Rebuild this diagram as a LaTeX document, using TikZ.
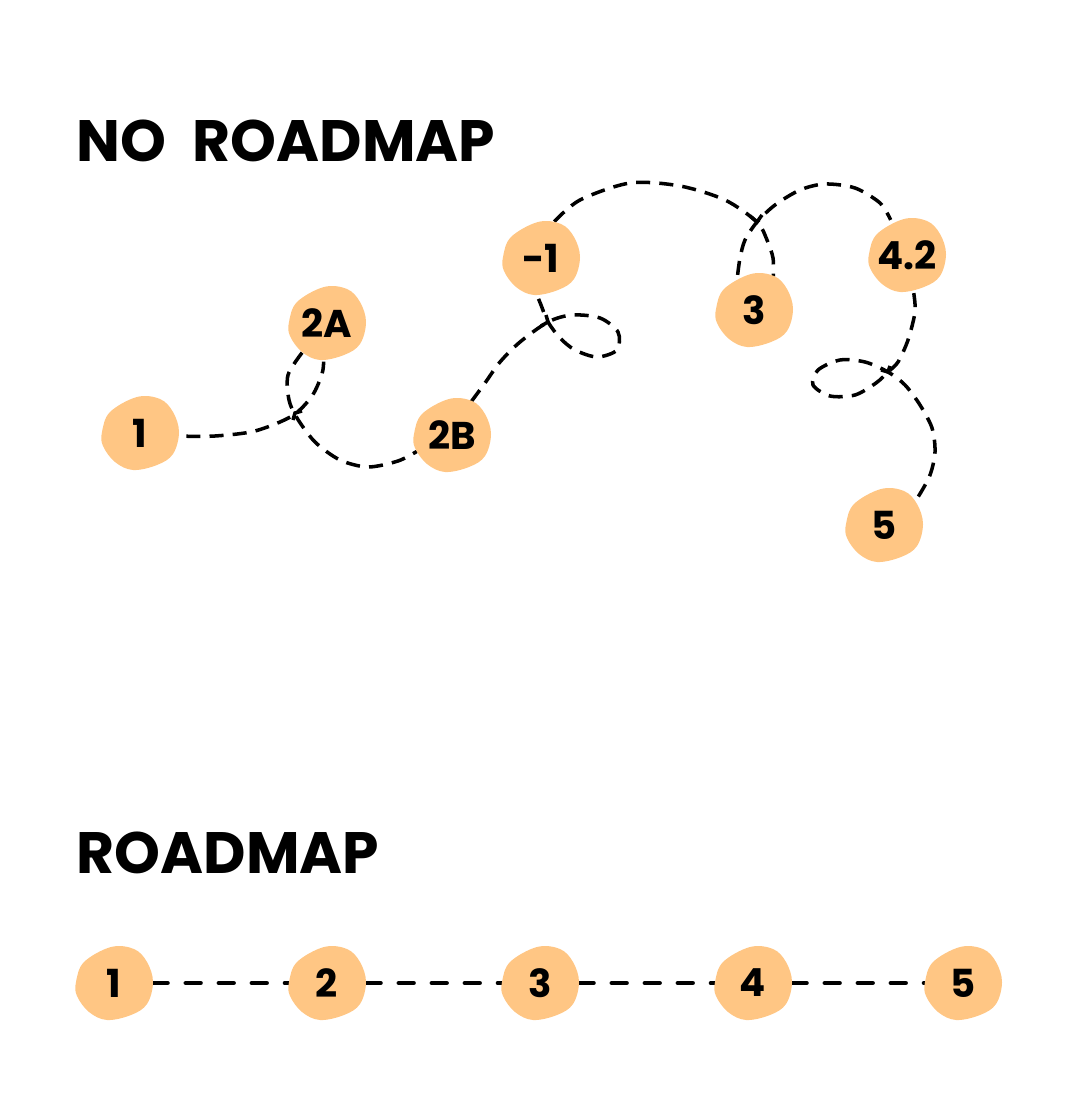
\documentclass[tikz,border=0pt]{standalone}
\usepackage{fontspec}
\setmainfont{Poppins}
\usepackage{xcolor}
\definecolor{blobfill}{HTML}{FFC684}
\pgfdeclarelayer{bg}
\pgfsetlayers{bg,main}
\tikzset{
    stone/.style={circle, minimum size=0.76cm, inner sep=0pt, font=\fontsize{11}{13}\selectfont\bfseries},
    titletext/.style={anchor=base west, inner sep=0pt, font=\fontsize{16.6}{20}\selectfont\bfseries},
    wander/.style={line width=1pt, dash pattern=on 4pt off 2.6pt},
    straight/.style={line width=1.3pt, line cap=round, dash pattern=on 4.2pt off 5.2pt},
}
\begin{document}
\begin{tikzpicture}[x=0.01cm, y=-0.01cm]
    \useasboundingbox (0,0) rectangle (1080,1116);
    %% 定义blob命令: x, y, 名字, 标签
    \newcommand{\blob}[4]{
        \fill[blobfill, shift={(#1,#2)}] plot[smooth cycle, tension=0.6] coordinates
            {(-38,-1) (-30,-21) (-3,-36) (20,-34) (33,-21) (39,-1) (33,21) (17,32) (-7,37) (-25,29) (-37,13)};
        \node[stone] (#3) at (#1,#2) {#4};
    }
    %% 标题
    \node[titletext] (top) at (76,162) {NO\hspace{4pt} ROADMAP};
    \node[titletext] (bottom) at (76,873) {ROADMAP};

    %% 没有路线图的节点
    \blob{140}{433}{a1}{1};
    \blob{327}{323}{a2a}{2A};
    \blob{452}{435}{a2b}{2B};
    \blob{541}{258}{am1}{-1};
    \blob{754}{310}{a3}{3};
    \blob{907}{255}{a42}{4.2};
    \blob{884}{525}{a5}{5};

    %% 有路线图的节点
    \foreach \t/\x in {1/114, 2/327, 3/540, 4/753, 5/963}{
        \blob{\x}{983}{r\t}{\t};
    }

    \begin{pgfonlayer}{bg}
        %% 弯弯曲曲的虚线
        \draw[wander] plot[smooth] coordinates {(a1.center) (180,436) (215,436) (255,431) (292,416) (312,396) (322,374) (a2a.-95)};
        \draw[wander] plot[smooth] coordinates {(a2a.-130) (288,375) (289,400) (297,418) (315,442) (340,460) (368,467) (398,461) (a2b.205)};
        \draw[wander] plot[smooth] coordinates {(a2b.60) (485,383) (500,362) (520,342) (548,322) (572,315) (600,318) (618,332) (617,350) (597,357) (575,350) (560,338) (548,322) (541,305) (am1.-95)};
        \draw[wander] plot[smooth] coordinates {(am1.70) (580,200) (630,183) (680,186) (725,200) (757,222) (767,240) (773,258) (a3.60)};
        \draw[wander] plot[smooth] coordinates {(a3.115) (740,258) (745,240) (757,222) (775,205) (800,190) (825,184) (855,188) (880,203) (a42.115)};
        \draw[wander] plot[smooth] coordinates {(a42.-80) (915,312) (908,340) (898,362) (888,372) (876,383) (855,395) (830,396) (813,385) (818,370) (840,360) (865,362) (888,372) (905,385) (920,405) (932,428) (935,452) (930,475) (918,497) (a5.40)};
        %% 交叉处的小短线
        \draw[line width=1pt] (541,326)--(548,322)--(546,315);
        \draw[line width=1pt] (750,216)--(757,222)--(762,215);
        \draw[line width=1pt] (890,366)--(888,372)--(881,370);
        \draw[line width=1pt] (293,420)--(295,413)--(302,411);

        %% 直的虚线
        \foreach \a/\b in {1/2, 2/3, 3/4, 4/5}{
            \draw[straight] (r\a) -- (r\b);
        }
    \end{pgfonlayer}
\end{tikzpicture}
\end{document}
